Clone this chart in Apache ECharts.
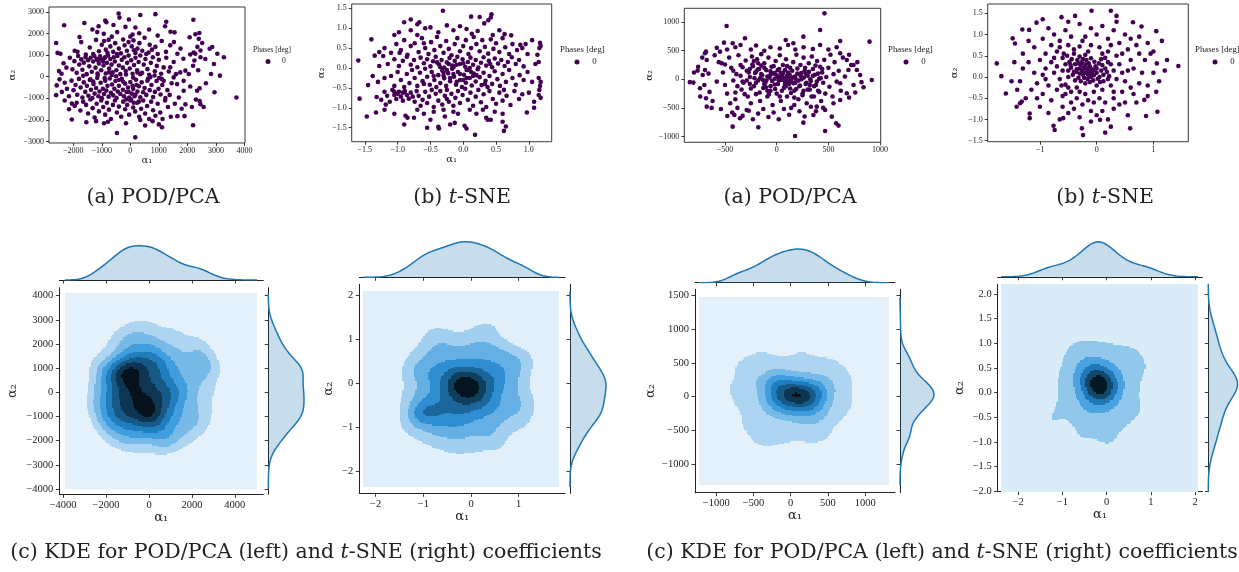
<!DOCTYPE html>
<html>
<head>
<meta charset="utf-8">
<script src="https://cdn.jsdelivr.net/npm/echarts@6/dist/echarts.min.js"></script>
<style>
html,body{margin:0;padding:0;background:#fff;}
#chart{width:1239px;height:572px;}
</style>
</head>
<body>
<div id="chart"></div>
<script>
// coefficients [alpha1, alpha2]
var podLeft = [
[-2320,2380],[-1610,2480],[-880,2600],[-410,2920],[-380,2730],[350,2850],[880,2890],[2210,2630],[1260,2540],[1220,2330],[-1110,2330],[-590,2390],[-170,2300],[180,2270],[-840,2520],[-460,2060],[-1160,2060],[310,2010],[1410,2080],[-50,2640],[1550,2050],[2420,2020],[-1330,2180],[660,2180],[-1780,1830],[-930,1980],[80,1950],[960,1900],
[-2600,1560],[-2550,1100],[-2450,1060],[-1720,1600],[-1850,1150],[-1950,1200],[-1420,1350],[-1300,1050],[-1200,1700],[-1000,1480],[-920,1650],[-860,1250],[-800,1100],[-760,1700],[-700,1400],[-650,1850],[-600,1150],[-530,1550],[-400,1300],[-330,1080],[-250,1720],[-200,1450],[-120,1200],[-60,1600],[0,1850],[50,1400],[110,1680],[180,1100],[250,1300],[320,1550],[420,1200],[500,1800],[560,1050],[680,1480],[760,1250],[880,1380],[960,1050],[1100,1650],[1250,1150],[1400,1450],[1530,1600],[1650,1060],[1760,1300],[2080,1820],[2280,1960],[2400,1750],[2350,1380],[2520,1555],[2220,1120],[2870,1370],[2780,1290],[3050,1060],[2460,1210],[2100,1030],[2280,1060],[-1100,1180],[-1560,1020],[-470,1050],[130,1220],[640,1120],
[-2500,260],[-2410,140],[-2340,620],[-2240,420],[-2120,880],[-2030,340],[-1960,720],[-1880,180],[-1830,960],[-1790,560],[-1720,800],[-1680,320],[-1630,650],[-1570,900],[-1530,120],[-1480,760],[-1440,480],[-1390,880],[-1350,230],[-1300,700],[-1260,960],[-1220,420],[-1180,820],[-1140,80],[-1100,610],[-1060,940],[-1020,300],[-980,760],[-940,520],[-900,880],[-860,150],[-820,640],[-780,980],[-740,380],[-700,820],[-660,560],[-620,200],[-580,900],[-540,700],[-490,300],[-450,960],[-400,520],[-350,120],[-300,780],[-260,420],[-210,900],[-160,260],[-110,640],[-60,980],[-20,380],[30,760],[80,140],[130,540],[180,880],[240,300],[290,680],[350,980],[410,180],[470,560],[530,820],[600,350],[660,90],[720,640],[790,900],[860,250],[930,500],[1000,780],[1080,140],[1170,430],[1260,880],[1350,240],[1400,435],[1520,680],[1600,120],[1750,200],[1930,280],[2050,125],[2200,510],[2245,750],[2460,900],[2630,820],[2830,125],[2930,590],[3140,50],[3280,900],[2380,300],[1860,830],[-1050,820],[-950,700],[-1150,760],[-880,900],
[-1400,-120],[-1150,150],[-900,-60],[-650,80],[-400,-150],[-150,100],[100,-40],[350,120],[600,-180],[850,60],[-1650,40],[-1300,-220],[-750,210],[-250,-230],[250,200],[700,-20],[1100,-100],[-500,20],
[-2580,-400],[-2480,-120],[-2400,-700],[-2300,-280],[-2220,-560],[-2150,-900],[-2060,-180],[-1990,-620],[-1920,-380],[-1860,-830],[-1800,-100],[-1740,-500],[-1680,-960],[-1630,-260],[-1580,-700],[-1520,-420],[-1470,-880],[-1420,-150],[-1380,-600],[-1330,-980],[-1290,-330],[-1250,-780],[-1200,-520],[-1160,-60],[-1120,-900],[-1080,-680],[-1040,-280],[-1000,-990],[-960,-560],[-920,-800],[-880,-180],[-840,-640],[-800,-420],[-760,-920],[-720,-80],[-680,-740],[-640,-360],[-600,-860],[-560,-560],[-520,-200],[-480,-980],[-440,-680],[-400,-420],[-350,-800],[-300,-100],[-260,-600],[-220,-900],[-180,-320],[-130,-700],[-80,-500],[-40,-960],[0,-240],[50,-780],[100,-560],[150,-900],[200,-140],[250,-680],[300,-440],[350,-950],[400,-260],[450,-720],[500,-520],[560,-840],[620,-100],[680,-620],[740,-380],[800,-940],[860,-700],[920,-200],[990,-560],[1060,-820],[1120,-380],[1170,-190],[1230,-980],[1300,-620],[1380,-840],[1450,-300],[1520,-30],[1640,-340],[1700,-960],[1870,-190],[1870,-650],[2340,-650],[2430,-530],[2650,-300],[2950,-720],[3720,-960],[2100,-450],[1010,-60],[-2600,-850],[80,-420],[180,-820],[-60,-700],[220,-380],
[-2300,-1100],[-2150,-1500],[-2050,-1240],[-1950,-1350],[-1880,-1200],[-1750,-1560],[-1650,-1150],[-1550,-1300],[-1480,-1700],[-1400,-1050],[-1320,-1450],[-1250,-1880],[-1180,-1250],[-1100,-1600],[-1020,-1100],[-950,-1400],[-880,-1750],[-820,-1200],[-750,-1520],[-680,-1950],[-610,-1300],[-540,-1100],[-470,-1650],[-400,-1380],[-320,-1850],[-250,-1150],[-180,-1500],[-110,-1300],[-40,-1750],[30,-1050],[100,-1420],[170,-1600],[240,-1200],[310,-1850],[380,-1480],[450,-1100],[520,-1700],[590,-1350],[660,-1950],[730,-1150],[800,-1550],[880,-1800],[960,-1250],[1050,-1650],[1130,-1950],[1220,-1100],[1320,-1400],[1420,-1850],[1560,-1250],[1650,-1820],[1930,-1275],[1900,-1820],[2160,-1400],[2430,-1120],[2460,-1270],[2570,-1400],[2300,-1050],[1800,-1480],[0,-1100],[120,-1200],[-150,-1050],[300,-1150],
[-2050,-1975],[-1540,-2100],[-470,-2600],[175,-2800],[1110,-2330],[2200,-2240],[-1200,-2050],[-780,-2080],[-150,-2150],[350,-2000],[780,-2050],[1000,-2200],[520,-2250],[-920,-2150]
];

var tsneLeft = [
[-0.31,1.44],[0.12,1.29],[0.43,1.35],[0.42,1.27],[0.25,1.28],[-0.8,1.22],[-0.9,1.15],[-0.67,1.15],[-0.7,1.1],[-0.98,0.9],[-0.5,1.02],[-0.8,0.95],[-0.25,1.07],[-0.05,1.05],[0.05,0.98],[0.32,1.12],[0.38,1.2],[-0.58,1.0],[-0.15,0.95],[0.13,0.86],[0.45,0.83],[0.63,0.85],[0.73,0.82],[-0.38,0.9],[-0.7,0.83],[0.22,0.93],[-1.05,0.83],[0.55,0.95],
[-1.4,0.72],[-1.2,0.5],[-1.1,0.38],[-1.02,0.6],[-0.95,0.45],[-0.9,0.7],[-0.85,0.33],[-0.8,0.55],[-0.74,0.62],[-0.68,0.4],[-0.63,0.75],[-0.58,0.5],[-0.53,0.35],[-0.49,0.65],[-0.44,0.45],[-0.4,0.78],[-0.35,0.55],[-0.3,0.38],[-0.26,0.68],[-0.22,0.48],[-0.18,0.32],[-0.13,0.6],[-0.09,0.75],[-0.05,0.42],[0.0,0.55],[0.04,0.7],[0.08,0.35],[0.12,0.5],[0.16,0.78],[0.2,0.6],[0.25,0.42],[0.29,0.7],[0.33,0.53],[0.38,0.36],[0.42,0.72],[0.46,0.48],[0.5,0.62],[0.55,0.4],[0.6,0.75],[0.64,0.52],[0.7,0.35],[0.75,0.6],[0.82,0.45],[0.9,0.5],[0.95,0.6],[0.98,0.35],[1.05,0.7],[1.17,0.63],[1.18,0.55],[1.16,0.5],[1.13,0.33],[-1.28,0.4],[-0.97,0.38],[0.87,0.58],[-0.6,0.62],
[-1.6,0.19],[-1.35,0.31],[-1.22,0.3],[-1.15,0.1],[-1.05,0.22],[-0.98,0.05],[-0.92,0.18],[-0.86,0.28],[-0.8,0.08],[-0.75,0.2],[-0.7,0.02],[-0.65,0.26],[-0.6,0.12],[-0.55,0.22],[-0.5,0.04],[-0.46,0.17],[-0.42,0.28],[-0.37,0.09],[-0.33,0.2],[-0.29,0.01],[-0.25,0.14],[-0.21,0.25],[-0.17,0.06],[-0.13,0.18],[-0.09,0.28],[-0.05,0.1],[-0.01,0.22],[0.03,0.03],[0.07,0.15],[0.11,0.26],[0.15,0.08],[0.19,0.2],[0.23,0.01],[0.27,0.13],[0.31,0.27],[0.35,0.06],[0.39,0.18],[0.44,0.02],[0.48,0.24],[0.53,0.11],[0.58,0.2],[0.63,0.05],[0.68,0.15],[0.74,0.27],[0.8,0.1],[0.85,0.2],[0.92,0.04],[1.1,0.1],[1.15,0.15],[-1.28,0.05],[-0.4,0.14],[0.0,0.12],[0.41,0.1],[-0.15,0.02],
[-0.25,-0.05],[-0.15,0.05],[-0.05,-0.15],[0.05,-0.05],[-0.3,-0.12],[-0.2,-0.25],[0.1,0.0],[-0.1,0.08],[-0.35,0.02],[0.0,-0.3],[0.15,-0.2],[-0.22,0.1],
[-1.45,-0.43],[-1.38,-0.2],[-1.3,-0.35],[-1.2,-0.25],[-1.1,-0.2],[-1.05,-0.45],[-1.0,-0.1],[-0.95,-0.3],[-0.9,-0.48],[-0.86,-0.15],[-0.82,-0.38],[-0.78,-0.05],[-0.74,-0.25],[-0.7,-0.45],[-0.66,-0.12],[-0.62,-0.33],[-0.58,-0.02],[-0.55,-0.22],[-0.51,-0.42],[-0.48,-0.1],[-0.44,-0.3],[-0.41,-0.48],[-0.38,-0.18],[-0.35,-0.38],[-0.32,-0.06],[-0.29,-0.26],[-0.26,-0.45],[-0.23,-0.13],[-0.2,-0.33],[-0.17,-0.02],[-0.14,-0.22],[-0.11,-0.42],[-0.08,-0.1],[-0.05,-0.3],[-0.02,-0.48],[0.01,-0.17],[0.04,-0.37],[0.07,-0.05],[0.1,-0.25],[0.13,-0.44],[0.16,-0.14],[0.19,-0.34],[0.22,-0.03],[0.25,-0.23],[0.28,-0.43],[0.31,-0.12],[0.34,-0.32],[0.37,-0.48],[0.4,-0.2],[0.44,-0.4],[0.48,-0.08],[0.52,-0.28],[0.56,-0.45],[0.6,-0.15],[0.65,-0.35],[0.7,-0.05],[0.75,-0.25],[0.8,-0.42],[0.86,-0.18],[0.92,-0.3],[0.98,-0.1],[1.05,-0.35],[1.15,-0.25],[1.18,-0.35],[1.17,-0.45],[-0.3,-0.2],[-0.15,-0.15],[0.05,-0.25],[-0.45,-0.2],[0.2,-0.18],[-0.6,-0.4],[0.33,-0.4],[-0.1,-0.35],[0.12,-0.1],
[-1.58,-0.77],[-1.32,-0.73],[-1.25,-0.8],[-1.2,-0.6],[-1.16,-0.7],[-1.12,-0.85],[-1.08,-0.55],[-1.05,-0.68],[-1.02,-0.78],[-0.98,-0.6],[-0.95,-0.72],[-0.92,-0.82],[-0.89,-0.58],[-0.86,-0.68],[-0.83,-0.77],[-0.8,-0.62],[-0.77,-0.72],[-0.74,-0.85],[-0.71,-0.58],[-0.68,-0.7],[-0.65,-0.95],[-0.62,-0.8],[-0.58,-0.6],[-0.55,-0.88],[-0.52,-0.72],[-0.48,-0.55],[-0.45,-0.98],[-0.42,-0.65],[-0.38,-0.82],[-0.35,-0.58],[-0.32,-0.92],[-0.28,-0.7],[-0.25,-0.55],[-0.22,-0.85],[-0.18,-0.65],[-0.15,-0.95],[-0.12,-0.75],[-0.08,-0.58],[-0.05,-0.88],[-0.01,-0.68],[0.03,-0.52],[0.07,-0.8],[0.11,-0.62],[0.15,-0.95],[0.19,-0.72],[0.23,-0.55],[0.27,-0.86],[0.31,-0.66],[0.35,-0.98],[0.4,-0.58],[0.45,-0.78],[0.5,-0.9],[0.55,-0.62],[0.6,-0.82],[0.66,-0.7],[0.72,-0.93],[0.78,-0.58],[0.85,-0.78],[0.9,-0.66],[1.0,-0.62],[1.08,-0.85],[1.15,-0.68],[1.18,-0.75],[1.16,-0.55],[-1.18,-0.92],[0.62,-0.55],[-0.25,-0.78],[-1.0,-0.65],[-0.92,-0.62],[-1.05,-0.6],
[-1.47,-1.22],[-1.33,-1.12],[-1.2,-1.05],[-1.05,-1.15],[-0.9,-1.42],[-0.88,-1.2],[-0.85,-1.25],[-0.75,-1.25],[-0.7,-1.05],[-0.6,-1.15],[-0.55,-1.5],[-0.5,-1.3],[-0.45,-1.1],[-0.38,-1.48],[-0.37,-1.52],[-0.28,-1.22],[-0.2,-1.42],[-0.13,-1.38],[-0.08,-1.15],[0.02,-1.45],[0.05,-1.52],[0.1,-1.05],[0.18,-1.68],[0.2,-1.15],[0.3,-1.05],[0.35,-1.25],[0.37,-1.3],[0.42,-1.3],[0.48,-1.1],[0.6,-1.15],[0.6,-1.35],[0.62,-1.58],[0.65,-1.47],[0.97,-1.12],[1.08,-1.0],[-0.3,-1.05],[-0.15,-1.1]
];

var podRight = [
[462,1154],[420,863],[-485,933],[-510,641],[-307,717],[258,746],[87,688],[161,630],[614,670],[898,659],[920,-12],[840,-140],[-426,-828],[-178,-840],[178,-991],[468,-904],[575,-770],[598,-810],[258,-758],[-478,-641],[-410,-624],[-355,-682],[-290,-536],[-806,-58],[-742,-157],[-716,76],[-694,163],[-765,152],[-677,-478],[-684,-332],[-677,338],[-694,455],[-684,484],[-549,484],[-426,630],[-532,280],[614,455],[678,338],[743,250],[775,163],[807,76],[694,163],[743,-99],[614,-70],[678,-245],[614,-361],[549,-420],[533,-653],[468,-536],[355,-624],[387,-478],
[-600,420],[-560,300],[-520,120],[-500,-100],[-480,-250],[-460,380],[-440,200],[-420,-20],[-400,-350],[-390,90],[-370,420],[-350,250],[-340,-180],[-320,-60],[-300,330],[-290,150],[-280,-300],[-260,40],[-250,-420],[-240,400],[-230,230],[-220,-120],[-210,110],[-200,-260],[-190,350],[-180,-20],[-170,180],[-160,-380],[-150,440],[-140,70],[-130,-150],[-120,280],[-110,-60],[-100,160],[-90,-300],[-80,380],[-70,30],[-60,-200],[-50,220],[-40,-450],[-30,100],[-20,-90],[-10,320],[0,-250],[10,160],[20,-20],[30,420],[40,-380],[50,60],[60,250],[70,-150],[80,-40],[90,350],[100,-300],[110,120],[120,-80],[130,200],[140,-500],[150,30],[160,300],[170,-200],[180,-60],[190,430],[200,100],[210,-350],[220,-120],[230,250],[240,0],[250,-250],[260,380],[270,150],[280,-80],[290,-420],[300,60],[310,280],[320,-180],[330,-30],[340,400],[350,180],[360,-300],[370,80],[380,-100],[390,320],[400,-200],[410,10],[420,220],[430,-380],[440,120],[450,-60],[460,340],[470,-250],[480,40],[500,200],[510,-130],[520,430],[540,-300],[550,90],[560,300],[580,-40],[600,150],[620,-200],[640,380],[660,50],[700,-320],[720,250],
[-650,-220],[-620,-380],[-580,-40],[-540,-520],[-500,260],[-450,-420],[-430,-580],[-380,-500],[-330,-640],[-270,-550],[-230,-700],[-180,-600],[-130,-520],[-80,-660],[-30,-580],[20,-700],[70,-520],[120,-620],[170,-450],[220,-560],[270,-650],[330,-480],[380,-560],[450,-500],[-760,220],[-740,-300],[-720,380],[-700,-100],[-660,100],[-630,-500],[-580,550],[-480,520],[-400,560],[-350,600],[-250,520],[-200,590],[-120,500],[-60,560],[30,540],[110,600],[180,520],[260,560],[350,530],[420,600],[500,520],[580,560],[780,300],[820,-50],[760,-230],[700,430],[-800,120],[-840,-50],
[15,40],[60,-10],[100,60],[-20,10],[140,-30],[-60,80],[180,20],[40,110],[80,-90],[-100,-20],[230,60],[-150,240],[-220,320],[-260,180],[-180,280],
[-380,-120],[-350,60],[-330,210],[-310,-260],[-290,-20],[-270,120],[-250,-160],[-235,260],[-215,20],[-200,-60],[-185,170],[-165,-230],[-150,90],[-135,-10],[-120,200],[-105,-140],[-90,50],[-75,-260],[-60,140],[-45,-30],[-30,230],[-15,-170],[0,70],[12,-80],[25,180],[38,-10],[50,-200],[62,110],[75,20],[88,-120],[100,230],[112,-40],[125,80],[138,-240],[150,150],[162,-70],[175,50],[188,-170],[200,190],[212,-20],[225,-110],[238,110],[250,-280],[262,30],[275,200],[288,-60],[300,-180],[312,130],[325,0],[338,-300],[350,60],[362,-120],[375,240],[388,-40],[400,100],[412,-220],[425,20],[440,180],[-420,150],[-400,-230],[-260,-80],[-120,-80],[30,-300],[170,-320],[320,-100],[-60,-120],[80,160],[-200,130],[130,-160],[260,-200],[-330,-40],[45,40],[110,10],[-20,110],[190,-30],[-90,-200],[280,100],[-160,20]
];

var tsneRight = [
[-1.76,0.32],[-1.68,0.02],[-1.6,-0.39],[-1.41,-0.7],[-1.48,0.91],[-1.44,0.79],[-1.31,1.12],[-1.19,1.11],[-1.06,1.28],[-0.95,1.36],[-0.62,1.41],[-0.38,1.44],[-0.09,1.56],[0.25,1.56],[0.35,1.44],[0.64,1.29],[0.79,1.19],[1.05,1.08],[1.15,0.85],[1.24,0.4],[1.44,0.26],[1.06,0.32],[1.05,-0.35],[1.07,-0.82],[0.84,-0.54],[0.87,-0.92],[0.59,-1.21],[0.15,-1.31],[-0.24,-1.37],[-0.26,-1.21],[-0.59,-0.97],[-0.76,-1.15],[-0.74,-1.25],[-1.18,-0.97],[-1.18,-0.86],[-1.35,-0.62],[-1.32,-0.58],[0.25,-1.17],[0.06,-1.01],[0,-0.9],
[-0.2,0.1],[-0.15,0.05],[-0.25,0.15],[-0.1,0.12],[-0.3,0.08],[-0.18,0.2],[-0.05,0.04],[-0.22,-0.02],[-0.12,0.25],[-0.35,0.18],[-0.28,0.28],[-0.08,0.18],[0.0,0.1],[-0.16,-0.05],[-0.32,-0.02],[-0.4,0.12],[-0.02,0.25],[0.05,0.0],[-0.26,0.35],[-0.14,0.32],[-0.38,0.3],[-0.45,0.22],[0.08,0.15],[-0.06,-0.08],[-0.24,0.05],[-0.1,0.0],[-0.2,0.3],[-0.3,0.2],[-0.42,0.05],[0.1,0.28],[-0.34,0.4],[-0.18,0.4],[-0.04,0.36],[0.12,0.05],[-0.28,-0.1],[-0.12,-0.12],[0.02,-0.04],[-0.48,0.35],[-0.5,0.15],[-0.22,0.22],[-0.16,0.14],[-0.26,0.1],[-0.08,0.08],[-0.36,0.12],[0.15,0.2],[0.04,0.32],[-0.44,0.42],[-0.3,0.48],[-0.1,0.44],[0.08,0.42],[-0.55,0.3],[-0.6,0.45],[-0.52,0.5],[0.18,0.12],[0.2,0.35],[-0.2,-0.15],[0.06,-0.12],[-0.38,-0.08],[-0.14,0.22],[-0.32,0.32],[-0.06,0.16],[-0.24,0.42],[0.0,0.2],[-0.46,0.28],[-0.58,0.55],[-0.4,0.55],[-0.2,0.52],[0.12,-0.1],[0.22,0.02],[-0.12,0.06],
[-0.7,0.6],[-0.8,0.35],[-0.9,0.2],[-0.75,0.1],[-0.65,-0.05],[-0.85,-0.2],[-0.7,-0.3],[-0.55,-0.18],[-0.45,-0.35],[-0.6,-0.45],[-0.35,-0.5],[-0.2,-0.4],[-0.05,-0.35],[0.1,-0.3],[0.25,-0.2],[0.35,-0.05],[0.3,0.15],[0.4,0.3],[0.35,0.5],[0.2,0.6],[0.05,0.7],[-0.1,0.75],[-0.3,0.72],[-0.5,0.75],[-0.65,0.85],[-0.45,0.95],[-0.2,0.95],[0.0,1.0],[0.2,0.9],[0.4,0.8],[0.55,0.65],[0.6,0.4],[0.55,0.15],[0.5,-0.1],[0.45,-0.35],[0.3,-0.5],[0.15,-0.6],[-0.05,-0.6],[-0.25,-0.65],[-0.45,-0.6],[-0.6,-0.7],[-0.8,-0.55],[-0.95,-0.4],[-1.05,-0.15],[-1.1,0.1],[-1.0,0.4],[-0.9,0.55],[-0.8,0.75],[-1.2,0.35],[-1.3,0.2],[-1.15,-0.3],[-1.25,-0.5],[-1.0,-0.7],[-0.85,-0.85],[-0.5,-0.85],[-0.3,-0.95],[-0.1,-0.8],[0.1,-0.8],[0.3,-0.75],[0.5,-0.6],[0.65,-0.4],[0.75,-0.15],[0.8,0.1],[0.85,0.4],[0.75,0.55],[0.7,0.75],[0.5,1.0],[0.3,1.1],[0.1,1.2],[-0.1,1.15],[-0.3,1.25],[-0.55,1.1],[-0.75,1.0],[-0.95,0.9],[-1.1,0.7],[-1.3,0.55],[-1.45,0.35],[-1.5,-0.1],[-1.4,-0.3],[0.9,-0.2],[1.0,0.1],[0.95,0.55],[0.9,0.8],[0.6,0.9],[-0.15,0.6],[0.15,0.45],[-0.35,-0.25],[-0.5,0.0],[0.3,-0.35],[0.45,0.1],[-0.7,0.25],[-0.62,-0.2],[0.25,0.75],[-0.4,-0.75],[0.05,-0.5],[-0.9,-0.05],[0.7,-0.6],[-0.25,0.85],[0.6,-0.25],[-0.55,-0.4],
[-0.75,0.45],[-0.6,0.15],[-0.5,-0.25],[-0.3,-0.35],[0.0,-0.2],[0.2,-0.05],[0.25,0.3],[0.1,0.55],[-0.4,0.65],[-0.65,0.7],[0.45,0.55],[0.65,0.2],[-0.95,0.05],[-1.05,-0.5],[-0.15,-0.55],[0.4,-0.65],[0.9,-0.45],[1.1,-0.1],[1.2,0.15],[-1.35,-0.1],[-1.2,0.85],[0.35,1.3],[-0.5,1.3],[0.75,0.95],[1.0,0.6],[-0.85,1.15],[0.55,-0.9],[-0.65,-1.0],[0.2,-1.0],[-0.1,-1.05]
];

// tick values
var podLTicksX = [-2000,-1000,0,1000,2000,3000,4000];
var podLTicksY = [-3000,-2000,-1000,0,1000,2000,3000];
var tsneLTicksX = [-1.5,-1.0,-0.5,0,0.5,1.0];
var tsneLTicksY = [-1.5,-1.0,-0.5,0,0.5,1.0,1.5];
var podRTicksX = [-500,0,500,1000];
var podRTicksY = [-1000,-500,0,500,1000];
var tsneRTicksX = [-1,0,1];
var tsneRTicksY = [-1.5,-1.0,-0.5,0,0.5,1.0,1.5];

var kdePodLTicksX = [-4000,-2000,0,2000,4000];
var kdePodLTicksY = [-4000,-3000,-2000,-1000,0,1000,2000,3000,4000];
var kdeTsneLTicksX = [-2,-1,0,1];
var kdeTsneLTicksY = [-2,-1,0,1,2];
var kdePodRTicksX = [-1000,-500,0,500,1000];
var kdePodRTicksY = [-1000,-500,0,500,1000,1500];
var kdeTsneRTicksX = [-2,-1,0,1,2];
var kdeTsneRTicksY = [-2,-1.5,-1,-0.5,0,0.5,1,1.5,2];

var legendTitle = 'Phases [deg]';
var legendItem = '0';

var ink = '#222';
var tickFont = 'Liberation Serif';
var textFont = 'DejaVu Serif';
var dotColor = '#440154';
var kdeColor = '#1f77b4';

function fmt(dec) {
  return function (v) {
    var s = Math.abs(v).toFixed(dec);
    return (v < -1e-9 ? '\u2212' : '') + s;
  };
}

// ---------- kde helpers ----------
function std(v) {
  var m = 0; v.forEach(function (a) { m += a; }); m /= v.length;
  var s = 0; v.forEach(function (a) { s += (a - m) * (a - m); });
  return Math.sqrt(s / (v.length - 1));
}
function quant(sorted, q) {
  var pos = (sorted.length - 1) * q, lo = Math.floor(pos), hi = Math.ceil(pos);
  return sorted[lo] + (sorted[hi] - sorted[lo]) * (pos - lo);
}
function scott(v) {
  var s = v.slice().sort(function (a, b) { return a - b; });
  var iqr = (quant(s, 0.75) - quant(s, 0.25)) / 1.349;
  return 1.059 * Math.min(std(v), iqr) * Math.pow(v.length, -0.2);
}
function hueOf(hex) {
  var r = parseInt(hex.substr(1, 2), 16) / 255, g = parseInt(hex.substr(3, 2), 16) / 255, b = parseInt(hex.substr(5, 2), 16) / 255;
  var mx = Math.max(r, g, b), mn = Math.min(r, g, b), l = (mx + mn) / 2, d = mx - mn;
  var s = l <= 0.5 ? d / (mx + mn) : d / (2 - mx - mn);
  var h;
  if (mx === r) h = (g - b) / d; else if (mx === g) h = 2 + (b - r) / d; else h = 4 + (r - g) / d;
  h = (h / 6) % 1; if (h < 0) h += 1;
  return { h: h, s: s };
}
function hls(h, l, s) {
  if (s === 0) return [l, l, l];
  var m2 = l <= 0.5 ? l * (1 + s) : l + s - l * s, m1 = 2 * l - m2;
  function v(hu) {
    hu = ((hu % 1) + 1) % 1;
    if (hu < 1 / 6) return m1 + (m2 - m1) * hu * 6;
    if (hu < 0.5) return m2;
    if (hu < 2 / 3) return m1 + (m2 - m1) * (2 / 3 - hu) * 6;
    return m1;
  }
  return [v(h + 1 / 3), v(h), v(h - 1 / 3)];
}
var hs = hueOf(kdeColor);
var rampStops = [];
for (var q = 0; q < 12; q++) rampStops.push(hls(hs.h, 1 - q / 11, hs.s));
function ramp(t) {
  var p = Math.max(0, Math.min(1, t)) * 11, i = Math.min(10, Math.floor(p)), f = p - i;
  var a = rampStops[i], b = rampStops[i + 1];
  var c = [0, 1, 2].map(function (k) { return Math.round(255 * (a[k] + (b[k] - a[k]) * f)); });
  return 'rgb(' + c.join(',') + ')';
}

function kde2d(pts, N) {
  var xs = pts.map(function (p) { return p[0]; }), ys = pts.map(function (p) { return p[1]; });
  var n = pts.length, bx = scott(xs), by = scott(ys);
  var x0 = Math.min.apply(null, xs) - 3 * bx, x1 = Math.max.apply(null, xs) + 3 * bx;
  var y0 = Math.min.apply(null, ys) - 3 * by, y1 = Math.max.apply(null, ys) + 3 * by;
  var dx = (x1 - x0) / N, dy = (y1 - y0) / N;
  var Kx = [], Ky = [], i, j, p;
  for (i = 0; i < N; i++) {
    var cx = x0 + (i + 0.5) * dx, rx = new Float64Array(n);
    var cy = y0 + (i + 0.5) * dy, ry = new Float64Array(n);
    for (p = 0; p < n; p++) {
      var u = (cx - xs[p]) / bx, w = (cy - ys[p]) / by;
      rx[p] = Math.exp(-0.5 * u * u); ry[p] = Math.exp(-0.5 * w * w);
    }
    Kx.push(rx); Ky.push(ry);
  }
  var norm = 1 / (n * 2 * Math.PI * bx * by), dens = [], zmax = 0;
  for (j = 0; j < N; j++) {
    var row = new Float64Array(N), ky = Ky[j];
    for (i = 0; i < N; i++) {
      var kx = Kx[i], sum = 0;
      for (p = 0; p < n; p++) sum += kx[p] * ky[p];
      row[i] = sum * norm; if (row[i] > zmax) zmax = row[i];
    }
    dens.push(row);
  }
  // matplotlib MaxNLocator(11) style levels
  var raw = zmax / 11, scale = Math.pow(10, Math.floor(Math.log10(raw))), step = 0;
  [1, 2, 2.5, 5, 10].some(function (s) { if (s * scale >= raw * (1 - 1e-12)) { step = s * scale; return true; } return false; });
  var nl = Math.ceil(zmax / step - 1e-12);
  var colors = [];
  for (var k = 0; k < nl; k++) colors.push(ramp((k + 0.5) / nl));
  var idx = dens.map(function (row) {
    var r = new Int16Array(N);
    for (var a = 0; a < N; a++) r[a] = Math.min(nl - 1, Math.floor(row[a] / step));
    return r;
  });
  return { x0: x0, y0: y0, dx: dx, dy: dy, n: N, idx: idx, colors: colors };
}

function kde1d(v, M) {
  var n = v.length, b = scott(v);
  var a0 = Math.min.apply(null, v) - 3 * b, a1 = Math.max.apply(null, v) + 3 * b;
  var g = [], d = [], mx = 0;
  for (var i = 0; i < M; i++) {
    var x = a0 + (a1 - a0) * i / (M - 1), s = 0;
    for (var p = 0; p < n; p++) { var u = (x - v[p]) / b; s += Math.exp(-0.5 * u * u); }
    s /= n * b * Math.sqrt(2 * Math.PI);
    g.push(x); d.push(s); if (s > mx) mx = s;
  }
  return { g: g, d: d, max: mx };
}

// ---------- layout ----------
var scatterPanels = [
  { data: podLeft, left: 49, top: 7, width: 196, height: 136, xMin: -2850, xMax: 4020, yMin: -3060, yMax: 3220,
    xt: podLTicksX, yt: podLTicksY, xd: 0, yd: 0, xName: true, yGap: 32, lg: { tx: 253, dot: 268, fs: 7.5 } },
  { data: tsneLeft, left: 351.7, top: 4, width: 200, height: 137.7, xMin: -1.70, xMax: 1.348, yMin: -1.852, yMax: 1.608,
    xt: tsneLTicksX, yt: tsneLTicksY, xd: 1, yd: 1, xName: true, yGap: 25, lg: { tx: 560, dot: 577, fs: 8.8 } },
  { data: podRight, left: 684.3, top: 8.3, width: 196.4, height: 134, xMin: -894, xMax: 1006, yMin: -1102, yMax: 1242,
    xt: podRTicksX, yt: podRTicksY, xd: 0, yd: 0, xName: false, yGap: 29, lg: { tx: 888, dot: 906, fs: 8.8 } },
  { data: tsneRight, left: 987.7, top: 4, width: 200.6, height: 137.7, xMin: -1.92, xMax: 1.615, yMin: -1.525, yMax: 1.72,
    xt: tsneRTicksX, yt: tsneRTicksY, xd: 0, yd: 1, xName: false, yGap: 28, lg: { tx: 1195, dot: 1215, fs: 8.8 } }
];

var kdePanels = [
  { data: podLeft, left: 59.3, top: 287.7, width: 204, height: 206.6, xMin: -4180, xMax: 5326, yMin: -4222, yMax: 4329,
    xt: kdePodLTicksX, yt: kdePodLTicksY, xd: 0, yd: 0, mTop: 244, mH: 36, mLeft: 268.3, mW: 37.5, yGap: 40 },
  { data: tsneLeft, left: 359.3, top: 284.3, width: 205.7, height: 209, xMin: -2.342, xMax: 1.97, yMin: -2.49, yMax: 2.26,
    xt: kdeTsneLTicksX, yt: kdeTsneLTicksY, xd: 0, yd: 0, mTop: 239.9, mH: 37.4, mLeft: 570, mW: 37.8, yGap: 24 },
  { data: podRight, left: 695, top: 289.3, width: 200, height: 203.4, xMin: -1285, xMax: 1400, yMin: -1418, yMax: 1586,
    xt: kdePodRTicksX, yt: kdePodRTicksY, xd: 0, yd: 0, mTop: 247.3, mH: 35.4, mLeft: 900, mW: 35.7, yGap: 38 },
  { data: tsneRight, left: 997.7, top: 284.3, width: 204.6, height: 207.4, xMin: -2.463, xMax: 2.16, yMin: -2.01, yMax: 2.199,
    xt: kdeTsneRTicksX, yt: kdeTsneRTicksY, xd: 0, yd: 1, mTop: 240, mH: 36.75, mLeft: 1208.3, mW: 37, yGap: 32 }
];

var grids = [], xAxes = [], yAxes = [], series = [], legends = [], graphics = [];

function axisBase(min, max, ticks, dec, showLabel, fs, tlen, margin) {
  return {
    type: 'value', min: min, max: max, splitLine: { show: false },
    axisLine: { show: false, onZero: false },
    axisTick: { show: true, inside: false, length: tlen, customValues: ticks, lineStyle: { color: ink, width: 0.9 } },
    axisLabel: { show: showLabel, customValues: ticks, formatter: fmt(dec), fontFamily: tickFont, fontSize: fs, color: ink, margin: margin }
  };
}

scatterPanels.forEach(function (sp, k) {
  var gi = grids.length;
  grids.push({ left: sp.left, top: sp.top, width: sp.width, height: sp.height, show: true, borderColor: ink, borderWidth: 0.9, backgroundColor: 'transparent' });
  var xa = axisBase(sp.xMin, sp.xMax, sp.xt, sp.xd, true, 8, 3, 4);
  xa.gridIndex = gi;
  if (sp.xName) {
    xa.name = '\u03b1\u2081'; xa.nameLocation = 'middle'; xa.nameGap = 12;
    xa.nameTextStyle = { fontFamily: textFont, fontSize: 10, color: ink };
  }
  var ya = axisBase(sp.yMin, sp.yMax, sp.yt, sp.yd, true, 8, 3, 5);
  ya.gridIndex = gi;
  ya.name = '\u03b1\u2082'; ya.nameLocation = 'middle'; ya.nameGap = sp.yGap;
  ya.nameTextStyle = { fontFamily: textFont, fontSize: 10, color: ink };
  xAxes.push(xa); yAxes.push(ya);
  series.push({ type: 'scatter', name: legendItem, xAxisIndex: gi, yAxisIndex: gi, data: sp.data, symbolSize: 4.6,
    itemStyle: { color: dotColor, opacity: 1 }, silent: true });
  graphics.push({ type: 'text', x: sp.lg.tx, y: 50, style: { text: legendTitle, fontFamily: tickFont, fontSize: sp.lg.fs, fill: ink, verticalAlign: 'middle' } });
  legends.push({ left: sp.lg.dot - 2.5, top: 57.5, padding: 0, icon: 'circle', itemWidth: 5, itemHeight: 5, data: [legendItem],
    selectedMode: false, itemStyle: { opacity: 1 },
    textStyle: { fontFamily: tickFont, fontSize: sp.lg.fs, color: ink, padding: [0, 0, 0, sp.lg.fs - 1] } });
});

kdePanels.forEach(function (kp) {
  var kd = kde2d(kp.data, 150);
  var mx = kde1d(kp.data.map(function (p) { return p[0]; }), 200);
  var my = kde1d(kp.data.map(function (p) { return p[1]; }), 200);

  // joint axes
  var gj = grids.length;
  grids.push({ left: kp.left, top: kp.top, width: kp.width, height: kp.height, show: false });
  var xa = axisBase(kp.xMin, kp.xMax, kp.xt, kp.xd, true, 10.5, 3.5, 5);
  xa.gridIndex = gj; xa.axisLine = { show: true, onZero: false, lineStyle: { color: ink, width: 1 } };
  xa.name = '\u03b1\u2081'; xa.nameLocation = 'middle'; xa.nameGap = 16;
  xa.nameTextStyle = { fontFamily: textFont, fontSize: 13, color: ink };
  var ya = axisBase(kp.yMin, kp.yMax, kp.yt, kp.yd, true, 10.5, 3.5, 6);
  ya.gridIndex = gj; ya.axisLine = { show: true, onZero: false, lineStyle: { color: ink, width: 1 } };
  ya.name = '\u03b1\u2082'; ya.nameLocation = 'middle'; ya.nameGap = kp.yGap;
  ya.nameTextStyle = { fontFamily: textFont, fontSize: 13, color: ink };
  xAxes.push(xa); yAxes.push(ya);

  var rows = [];
  for (var j = 0; j < kd.n; j++) rows.push([kd.x0 + kd.n * kd.dx / 2, kd.y0 + (j + 0.5) * kd.dy, j]);
  series.push({
    type: 'custom', xAxisIndex: gj, yAxisIndex: gj, data: rows, silent: true, clip: false,
    encode: { x: 0, y: 1 },
    renderItem: function (params, api) {
      var r = api.value(2), line = kd.idx[r];
      var ya0 = kd.y0 + r * kd.dy, ya1 = ya0 + kd.dy;
      var pt = Math.round(api.coord([kd.x0, ya1])[1]), pb = Math.round(api.coord([kd.x0, ya0])[1]);
      var kids = [];
      if (pb > pt) {
        var i = 0;
        while (i < kd.n) {
          var lv = line[i], s = i;
          while (i < kd.n && line[i] === lv) i++;
          var xa0 = Math.round(api.coord([kd.x0 + s * kd.dx, ya0])[0]);
          var xa1 = Math.round(api.coord([kd.x0 + i * kd.dx, ya0])[0]);
          if (xa1 > xa0) kids.push({ type: 'rect', shape: { x: xa0, y: pt, width: xa1 - xa0, height: pb - pt }, style: { fill: kd.colors[lv] } });
        }
      }
      return { type: 'group', children: kids };
    }
  });

  // top marginal
  var gt = grids.length;
  grids.push({ left: kp.left, top: kp.mTop, width: kp.width, height: kp.mH, show: false });
  var txa = axisBase(kp.xMin, kp.xMax, kp.xt, kp.xd, false, 10, 3.5, 5);
  txa.gridIndex = gt; txa.axisLine = { show: true, onZero: false, lineStyle: { color: ink, width: 1 } };
  xAxes.push(txa);
  yAxes.push({ type: 'value', gridIndex: gt, min: 0, max: mx.max * 1.05, show: false });
  series.push({ type: 'line', xAxisIndex: gt, yAxisIndex: gt, showSymbol: false, symbol: 'none', silent: true,
    data: mx.g.map(function (x, i) { return [x, mx.d[i]]; }),
    lineStyle: { color: kdeColor, width: 1.5 }, areaStyle: { color: 'rgba(31,119,180,0.25)', opacity: 1 } });

  // right marginal
  var gr = grids.length;
  grids.push({ left: kp.mLeft, top: kp.top, width: kp.mW, height: kp.height, show: false });
  xAxes.push({ type: 'value', gridIndex: gr, min: 0, max: my.max * 1.05, show: false });
  var rya = axisBase(kp.yMin, kp.yMax, kp.yt, kp.yd, false, 10, 3.5, 5);
  rya.gridIndex = gr; rya.axisLine = { show: true, onZero: false, lineStyle: { color: ink, width: 1 } };
  yAxes.push(rya);
  series.push({
    type: 'custom', xAxisIndex: gr, yAxisIndex: gr, silent: true, clip: false, data: [[0, my.g[100]]],
    encode: { x: 0, y: 1 },
    renderItem: function (params, api) {
      var pts = [api.coord([0, my.g[0]])];
      for (var i = 0; i < my.g.length; i++) pts.push(api.coord([my.d[i], my.g[i]]));
      pts.push(api.coord([0, my.g[my.g.length - 1]]));
      return { type: 'polygon', shape: { points: pts }, style: { fill: 'rgba(31,119,180,0.25)' } };
    }
  });
  series.push({ type: 'line', xAxisIndex: gr, yAxisIndex: gr, showSymbol: false, symbol: 'none', silent: true,
    data: my.g.map(function (y, i) { return [my.d[i], y]; }),
    lineStyle: { color: kdeColor, width: 1.5 } });
});

// captions
var captions = [
  { x: 153, y: 198, t: '(a) POD/PCA' },
  { x: 462, y: 198, t: '(b) {i|t}-SNE' },
  { x: 790, y: 198, t: '(a) POD/PCA' },
  { x: 1105, y: 198, t: '(b) {i|t}-SNE' },
  { x: 306, y: 553, t: '(c) KDE for POD/PCA (left) and {i|t}-SNE (right) coefficients' },
  { x: 942, y: 553, t: '(c) KDE for POD/PCA (left) and {i|t}-SNE (right) coefficients' }
];
captions.forEach(function (c) {
  graphics.push({ type: 'text', x: c.x, y: c.y, style: {
    text: c.t, fontFamily: textFont, fontSize: 20.5, fill: ink, align: 'center', verticalAlign: 'middle',
    rich: { i: { fontStyle: 'italic', fontFamily: textFont, fontSize: 20.5, fill: ink } } } });
});

var chart = echarts.init(document.getElementById('chart'), null, { renderer: 'canvas' });
chart.setOption({
  animation: false,
  backgroundColor: '#fff',
  grid: grids,
  xAxis: xAxes,
  yAxis: yAxes,
  legend: legends,
  graphic: graphics,
  series: series
});
</script>
</body>
</html>
